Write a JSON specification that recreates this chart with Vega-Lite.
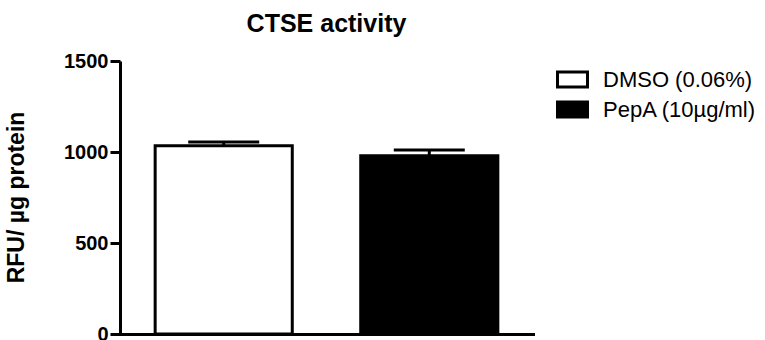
{
  "$schema": "https://vega.github.io/schema/vega-lite/v6.json",
  "autosize": {"type": "none"},
  "padding": {"left": 120, "top": 61, "right": 232, "bottom": 6},
  "width": 413,
  "height": 273,
  "background": "white",
  "config": {
    "view": {"stroke": null},
    "font": "Liberation Sans"
  },
  "title": {
    "text": "CTSE activity",
    "fontSize": 25,
    "fontWeight": "bold",
    "font": "Liberation Sans",
    "color": "black",
    "anchor": "middle",
    "offset": 14
  },
  "data": {
    "values": [
      {"group": "DMSO (0.06%)", "value": 1035, "upper": 1055},
      {"group": "PepA (10µg/ml)", "value": 980, "upper": 1011}
    ]
  },
  "encoding": {
    "x": {
      "field": "group",
      "type": "nominal",
      "sort": null,
      "scale": {"paddingInner": 0.333, "paddingOuter": 0.171},
      "axis": {
        "title": null,
        "labels": false,
        "ticks": false,
        "domainColor": "black",
        "domainWidth": 3,
        "domainCap": "square"
      }
    }
  },
  "layer": [
    {
      "mark": {"type": "bar", "stroke": "black", "strokeWidth": 3},
      "encoding": {
        "y": {
          "field": "value",
          "type": "quantitative",
          "scale": {"domain": [0, 1500], "nice": false},
          "axis": {
            "title": "RFU/ µg protein",
            "values": [0, 500, 1000, 1500],
            "format": "d",
            "grid": false,
            "domainColor": "black",
            "domainWidth": 3,
            "tickColor": "black",
            "tickWidth": 3,
            "tickSize": 10,
            "labelFontSize": 20,
            "labelFontWeight": "bold",
            "labelColor": "black",
            "labelPadding": 2,
            "labelFont": "Liberation Sans",
            "titleFontSize": 23,
            "titleFontWeight": "bold",
            "titleColor": "black",
            "titleFont": "Liberation Sans",
            "titleAngle": 270,
            "titleAlign": "center",
            "titleBaseline": "middle",
            "titleX": -104,
            "titleY": 136
          }
        },
        "fill": {
          "field": "group",
          "type": "nominal",
          "sort": null,
          "scale": {"range": ["white", "black"]},
          "legend": {
            "title": null,
            "orient": "none",
            "legendX": 436,
            "legendY": 5,
            "padding": 0,
            "symbolType": "M-1,-0.5H1V0.5H-1Z",
            "symbolSize": 900,
            "symbolStrokeColor": "black",
            "symbolStrokeWidth": 3,
            "labelFontSize": 22,
            "labelFont": "Liberation Sans",
            "labelColor": "black",
            "labelOffset": 14,
            "clipHeight": 27,
            "rowPadding": 3
          }
        }
      }
    },
    {
      "mark": {"type": "rule", "color": "black", "strokeWidth": 3},
      "encoding": {
        "y": {"field": "value", "type": "quantitative"},
        "y2": {"field": "upper"}
      }
    },
    {
      "mark": {"type": "tick", "color": "black", "opacity": 1, "size": 71, "thickness": 3},
      "encoding": {
        "y": {"field": "upper", "type": "quantitative"}
      }
    }
  ]
}
